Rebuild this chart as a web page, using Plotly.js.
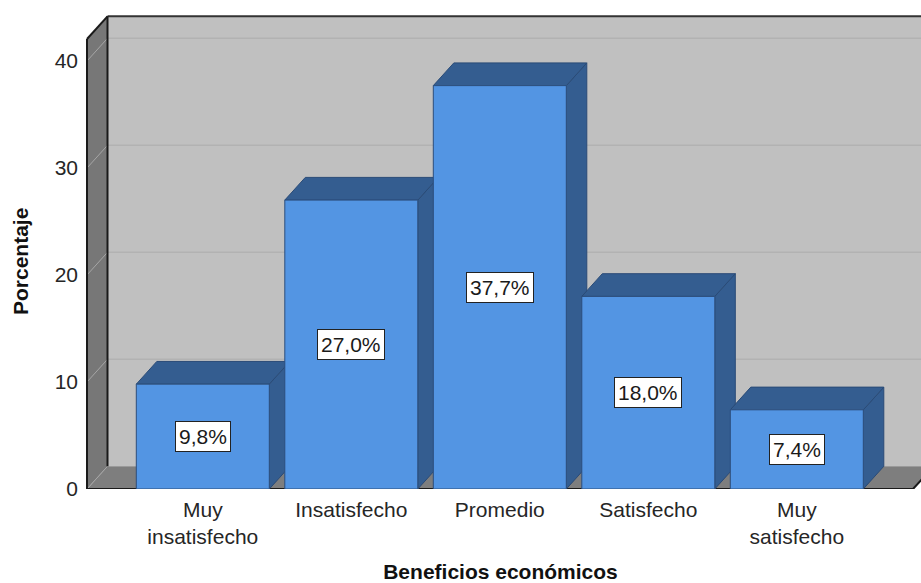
<!DOCTYPE html>
<html>
<head>
<meta charset="utf-8">
<script src="https://cdn.plot.ly/plotly-3.0.1.min.js"></script>
<style>html,body{margin:0;padding:0;background:#fff;}#chart{width:921px;height:583px;}</style>
</head>
<body>
<div id="chart"></div>
<script>
// ---- data ----
const categories = ["Muy<br>insatisfecho", "Insatisfecho", "Promedio", "Satisfecho", "Muy<br>satisfecho"];
const percentages = [9.8, 27.0, 37.7, 18.0, 7.4];
const yTickValues = [0, 10, 20, 30, 40];
const xTitle = "Beneficios económicos";
const yTitle = "Porcentaje";

// ---- geometry (pixels) ----
const W = 921, H = 583, ML = 80, MR = 0, MT = 10, MB = 94;
const plotW = W - ML - MR, plotH = H - MT - MB;
const PXY = 10.7;            // px per percentage unit
const PXX = 148.5;           // px per category
const firstCenterPx = 202.8; // px of first category centre
const frontLeftPx = 87;      // px of front axis
const frontTopPx = 39;
const floorRightPx = 913;
const depthPx = 20.5, depthPy = 22.7;
const barPx = 133;

const xL = -(firstCenterPx - ML) / PXX;
const xR = xL + plotW / PXX;
const yTop = plotH / PXY;
const DX = depthPx / PXX, DY = depthPy / PXY;
const BW = barPx / PXX;
const xF = -(firstCenterPx - frontLeftPx) / PXX;
const xFR = xF + (floorRightPx - frontLeftPx) / PXX;
const frontTop = ((H - MB) - frontTopPx) / PXY;
const backTop = frontTop + DY;

const FONT = 'Liberation Sans, Arial, sans-serif';
const xs = categories.map((_, i) => i);
const shapes = [];
const P = (pts) => 'M' + pts.map(p => p[0] + ',' + p[1]).join('L') + 'Z';
const poly = (pts, fill, line, lw) => shapes.push({type: 'path', xref: 'x', yref: 'y', layer: 'below',
  path: P(pts), fillcolor: fill, line: {color: line || fill, width: lw || 0}});
const seg = (x0, y0, x1, y1, color, w, dash) => shapes.push({type: 'line', xref: 'x', yref: 'y', layer: 'below',
  x0, y0, x1, y1, line: {color, width: w, dash: dash || 'solid'}});

// walls and floor
poly([[xF + DX, DY], [xR + 1, DY], [xR + 1, backTop], [xF + DX, backTop]], '#c0c0c0');
poly([[xF, 0], [xF + DX, DY], [xF + DX, backTop], [xF, frontTop]], '#777777');
poly([[xF, 0], [xFR, 0], [xFR + DX, DY], [xF + DX, DY]], '#7e7e7e');
// gridlines
yTickValues.forEach(v => {
  if (v > 0) seg(xF + DX, v + DY, xR + 1, v + DY, '#b2b2b2', 1.5);
  seg(xF, v, xF + DX, v + DY, '#a6a6a6', 1);
});
// frame edges
seg(xF, 0, xF, frontTop, '#1a1a1a', 2);
seg(xF, frontTop, xF + DX, backTop, '#1a1a1a', 2);
seg(xF + DX, backTop, xR + 1, backTop, '#333333', 2);
seg(xF + DX, DY, xF + DX, backTop, '#1a1a1a', 2);
seg(xF, 0, xFR, 0, '#1a1a1a', 2);
seg(xFR, 0, xFR + DX, DY, '#1a1a1a', 2);

// 3D faces of bars
xs.forEach((x, i) => {
  const v = percentages[i];
  const l = x - BW / 2, r = x + BW / 2;
  poly([[r, 0], [r, v], [r + DX, v + DY], [r + DX, DY]], '#345d90', '#2a4b77', 1);
  poly([[l, v], [l + DX, v + DY], [r + DX, v + DY], [r, v]], '#345d90', '#2a4b77', 1);
});

const annotations = xs.map((x, i) => ({
  x: x, y: percentages[i] / 2, xref: 'x', yref: 'y', showarrow: false,
  text: percentages[i].toFixed(1).replace('.', ',') + '%',
  font: {family: FONT, size: 21, color: '#1a1a1a'},
  bgcolor: '#ffffff', bordercolor: '#222222', borderwidth: 1, borderpad: 3
}));
annotations.push({
  text: yTitle, textangle: -90, showarrow: false, xref: 'paper', yref: 'paper',
  x: (20 - ML) / plotW, y: 1 - (262 - MT) / plotH, xanchor: 'center', yanchor: 'middle',
  font: {family: FONT, size: 21, color: '#111', weight: 'bold'}
});

const trace = {
  type: 'bar', x: xs, y: percentages, width: BW,
  marker: {color: '#5395e3', line: {color: '#2c4e7c', width: 1}},
  hoverinfo: 'skip'
};

const layout = {
  width: W, height: H,
  margin: {l: ML, r: MR, t: MT, b: MB},
  paper_bgcolor: '#ffffff', plot_bgcolor: '#ffffff',
  showlegend: false,
  font: {family: FONT, size: 21, color: '#262626'},
  xaxis: {
    range: [xL, xR], tickvals: xs, ticktext: categories, showgrid: false, zeroline: false,
    showline: false, ticks: '', ticklabelstandoff: 6,
    tickfont: {size: 21, color: '#262626'},
    title: {text: xTitle, font: {size: 21, color: '#111', weight: 'bold'}, standoff: 22}
  },
  yaxis: {
    range: [0, yTop], tickvals: yTickValues, ticktext: yTickValues.map(String),
    showgrid: false, zeroline: false, showline: false, ticks: '', ticklabelstandoff: 1,
    tickfont: {size: 21, color: '#262626'}
  },
  shapes: shapes,
  annotations: annotations
};

Plotly.newPlot('chart', [trace], layout, {staticPlot: true, displayModeBar: false});
</script>
</body>
</html>
